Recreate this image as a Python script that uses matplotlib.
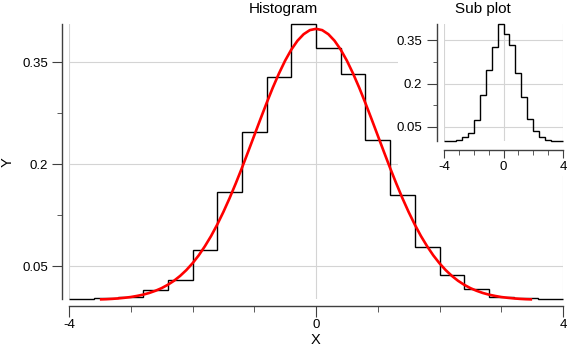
import matplotlib
matplotlib.use('Agg')
import matplotlib.pyplot as plt
from matplotlib.patches import Rectangle
import numpy as np

plt.rcParams['font.family'] = ['Liberation Sans', 'DejaVu Sans']
plt.rcParams['axes.unicode_minus'] = False

# histogram: 20 bins of width 0.4 between -4 and 4 (density)
bin_edges = np.linspace(-4, 4, 21)
hist_values = [0.0015, 0.003, 0.005, 0.0147, 0.030, 0.0735, 0.159, 0.2475, 0.328, 0.406,
               0.371, 0.332, 0.235, 0.155, 0.078, 0.037, 0.016, 0.005, 0.003, 0.0015]

# fitted curve, sampled every 0.1 from -3.5 to 3.5
fit_x = np.round(np.linspace(-3.5, 3.5, 71), 2)
fit_y = [0.0009, 0.0012, 0.0017, 0.0024, 0.0033, 0.0044, 0.0060, 0.0079, 0.0104, 0.0136,
         0.0175, 0.0224, 0.0283, 0.0355, 0.0440, 0.0540, 0.0656, 0.0790, 0.0940, 0.1109,
         0.1295, 0.1497, 0.1714, 0.1942, 0.2179, 0.2420, 0.2661, 0.2897, 0.3123, 0.3332,
         0.3521, 0.3683, 0.3814, 0.3910, 0.3970, 0.3989, 0.3970, 0.3910, 0.3814, 0.3683,
         0.3521, 0.3332, 0.3123, 0.2897, 0.2661, 0.2420, 0.2179, 0.1942, 0.1714, 0.1497,
         0.1295, 0.1109, 0.0940, 0.0790, 0.0656, 0.0540, 0.0440, 0.0355, 0.0283, 0.0224,
         0.0175, 0.0136, 0.0104, 0.0079, 0.0060, 0.0044, 0.0033, 0.0024, 0.0017, 0.0012,
         0.0009]

x_major = [-4, 0, 4]
x_minor = [-3, -2, -1, 1, 2, 3]
y_major = [0.05, 0.2, 0.35]
y_minor = [0.125, 0.275]
y_labels = ['0.05', '0.2', '0.35']

W, H = 567, 350
axis_color = '#404040'
grid_color = '#d4d4d4'
PX = 72 / 100  # points per pixel


def style_axes(ax, left_off, bottom_off, xlen, ylen, xpad, ypad):
    for s in ['top', 'right']:
        ax.spines[s].set_visible(False)
    ax.spines['left'].set_position(('outward', left_off * PX))
    ax.spines['bottom'].set_position(('outward', bottom_off * PX))
    for s in ['left', 'bottom']:
        ax.spines[s].set_color(axis_color)
        ax.spines[s].set_linewidth(1.0)
    ax.set_xticks(x_major)
    ax.set_xticklabels([str(v) for v in x_major])
    ax.set_xticks(x_minor, minor=True)
    ax.set_yticks(y_major)
    ax.set_yticklabels(y_labels)
    ax.set_yticks(y_minor, minor=True)
    ax.tick_params(axis='x', which='major', length=xlen[0] * PX, pad=xpad, color=axis_color, labelsize=9.5)
    ax.tick_params(axis='x', which='minor', length=xlen[1] * PX, color=axis_color)
    ax.tick_params(axis='y', which='major', length=ylen[0] * PX, pad=ypad, color=axis_color, labelsize=9.5)
    ax.tick_params(axis='y', which='minor', length=ylen[1] * PX, color=axis_color)
    ax.grid(True, which='major', color=grid_color, linewidth=0.8)
    ax.set_axisbelow(True)
    ax.set_xlim(-4, 4)
    ax.set_ylim(min(hist_values), max(hist_values))


fig = plt.figure(figsize=(W / 100, H / 100), dpi=100)

# main plot
ax = fig.add_axes([69 / W, 1 - 299 / H, (563 - 69) / W, (299 - 24) / H])
ax.stairs(hist_values, bin_edges, baseline=None, color='black', linewidth=1.0, clip_on=False)
ax.plot(fit_x, fit_y, color='red', linewidth=1.9, solid_capstyle='butt', clip_on=False)
style_axes(ax, 7, 7, (10.5, 5.5), (10, 5), 1.5, 3.0)

fig.text(283.5 / W, 1 - 8.5 / H, 'Histogram', ha='center', va='center', fontsize=11)
fig.text(316 / W, 1 - 340 / H, 'X', ha='center', va='center', fontsize=10.5)
fig.text(8 / W, 1 - 162 / H, 'Y', ha='center', va='center', fontsize=10.5, rotation=90)

# white area behind the sub plot
fig.patches.append(Rectangle((398 / W, 1 - 176 / H), (W - 398) / W, 176 / H,
                             transform=fig.transFigure, facecolor='white', edgecolor='none', zorder=1))

# sub plot
ax2 = fig.add_axes([444 / W, 1 - 141 / H, (563 - 444) / W, (141 - 24) / H], zorder=2)
ax2.patch.set_alpha(0)
ax2.stairs(hist_values, bin_edges, baseline=None, color='black', linewidth=1.0, clip_on=False)
style_axes(ax2, 7.3, 9, (8, 5), (10, 4), 2.5, 3.5)
fig.text(482.5 / W, 1 - 8.5 / H, 'Sub plot', ha='center', va='center', fontsize=11)

plt.savefig('out.png', dpi=100)
